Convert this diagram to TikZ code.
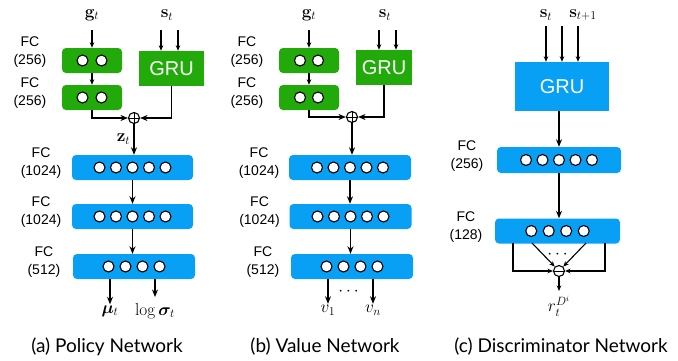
\documentclass[tikz,border=0pt]{standalone}
\usepackage{amsmath,bm}
\usepackage[no-math]{fontspec}
\newfontfamily\labelfont{Liberation Sans}
\newfontfamily\capfont{Lato}
\usetikzlibrary{arrows.meta,positioning}
\definecolor{netgreen}{RGB}{34,170,10}
\definecolor{netblue}{RGB}{8,160,245}
\tikzset{
  fcbox/.style={fill=netblue,rounded corners=4pt,minimum height=25pt,inner sep=0pt},
  gbox/.style={fill=netgreen,rounded corners=4pt,minimum width=60pt,minimum height=25pt,inner sep=0pt},
  grubox/.style={inner sep=0pt,text=white,font=\labelfont\fontsize{20}{20}\selectfont},
  unit/.style={circle,draw,fill=white,line width=1.1pt,minimum size=11pt,inner sep=0pt},
  fclabel/.style={align=center,font=\labelfont\fontsize{14}{18}\selectfont,yshift=4pt},
  var/.style={font=\fontsize{17}{19}\selectfont,inner sep=1pt},
  caption/.style={font=\capfont\fontsize{19}{22}\selectfont},
  arr/.style={-{Stealth[length=7.5pt,width=6pt]},line width=1.6pt},
  inarr/.style={-{Stealth[length=5.5pt,width=4.5pt]},line width=1.1pt},
  junction/.style={circle,draw,line width=1.1pt,minimum size=11pt,inner sep=0pt}
}
\begin{document}
\begin{tikzpicture}[x=1pt,y=-1pt]
\useasboundingbox (0,0) rectangle (678,360);
% (a) policy network
\node[var] (ga) at (92,15) {$\mathbf{g}_t$};
\node[var] (sa) at (167,15) {$\mathbf{s}_t$};
\node[gbox] (ga1) at (92,60.5) {};
\node[gbox] (ga2) at (92,97.5) {};
\node[grubox,fill=netgreen,minimum width=65pt,minimum height=35pt] (grua) at (171.5,68.5) {GRU};
\node[junction,path picture={\draw[line width=0.9pt] (path picture bounding box.north) -- (path picture bounding box.south) (path picture bounding box.west) -- (path picture bounding box.east);}] (pa) at (134,118) {};
\node[fcbox,minimum width=121pt] (fa1) at (132.5,167.5) {};
\node[fcbox,minimum width=121pt] (fa2) at (132.5,216.5) {};
\node[fcbox,minimum width=122pt] (fa3) at (134,266.5) {};
\foreach \b in {ga1,ga2} \foreach \i in {-0.5,0.5} \node[unit,xshift=\i*19pt] at (\b) {};
\foreach \b in {fa1,fa2} \foreach \i in {-2,...,2} \node[unit,xshift=\i*16.5pt] at (\b) {};
\foreach \i in {-1.5,-0.5,0.5,1.5} \node[unit,xshift=\i*17pt] at (fa3) {};
\node[fclabel,left=12pt of ga1,yshift=4pt] {FC\\(256)};
\node[fclabel,left=12pt of ga2] {FC\\(256)};
\node[fclabel,left=7pt of fa1] {FC\\(1024)};
\node[fclabel,left=7pt of fa2] {FC\\(1024)};
\node[fclabel,left=9pt of fa3] {FC\\(512)};
\coordinate (sa1) at (161,30);
\coordinate (sa2) at (178,30);
\draw[inarr] (ga.south |- sa1) -- (ga1.north);
\draw[inarr] (ga1) -- (ga2);
\draw[inarr] (sa1) -- (sa1 |- grua.north);
\draw[inarr] (sa2) -- (sa2 |- grua.north);
\draw[arr] (ga2.south) |- (pa.west);
\draw[arr] (grua.south) |- (pa.east);
\draw[arr] (pa) -- (pa |- fa1.north) node[midway,left=2pt,var] {$\mathbf{z}_t$};
\draw[arr] (fa1.south) -- (fa1.south |- fa2.north);
\draw[arr] (fa2.south) -- (fa2.south |- fa3.north);
\node[var] (mua) at (110,311) {$\bm{\mu}_t$};
\node[var] (siga) at (155,311) {$\log\bm{\sigma}_t$};
\draw[arr] (mua |- fa3.south) -- (mua.north);
\draw[arr] (155,279) -- (155,297);
\node[caption] (capa) at (107,347) {(a) Policy Network};
% (b) value network
\node[var] (gb) at (309,15) {$\mathbf{g}_t$};
\node[var] (sb) at (385,15) {$\mathbf{s}_t$};
\node[gbox] (gb1) at (309,60.5) {};
\node[gbox] (gb2) at (309,97.5) {};
\node[grubox,fill=netgreen,minimum width=56pt,minimum height=35pt] (grub) at (384,67.5) {GRU};
\node[junction,path picture={\draw[line width=0.9pt] (path picture bounding box.north) -- (path picture bounding box.south) (path picture bounding box.west) -- (path picture bounding box.east);}] (pb) at (352,117) {};
\node[fcbox,minimum width=122pt] (fb1) at (350,167.5) {};
\node[fcbox,minimum width=122pt] (fb2) at (350.5,216.5) {};
\node[fcbox,minimum width=122pt] (fb3) at (352,266.5) {};
\foreach \b in {gb1,gb2} \foreach \i in {-0.5,0.5} \node[unit,xshift=\i*18pt] at (\b) {};
\foreach \b in {fb1,fb2} \foreach \i in {-2,...,2} \node[unit,xshift=\i*16.5pt] at (\b) {};
\foreach \i in {-1.5,-0.5,0.5,1.5} \node[unit,xshift=\i*17pt] at (fb3) {};
\node[fclabel,left=12pt of gb1,yshift=4pt] {FC\\(256)};
\node[fclabel,left=12pt of gb2] {FC\\(256)};
\node[fclabel,left=6pt of fb1] {FC\\(1024)};
\node[fclabel,left=6pt of fb2] {FC\\(1024)};
\node[fclabel,left=8pt of fb3] {FC\\(512)};
\coordinate (sb1) at (379,30);
\coordinate (sb2) at (396,30);
\draw[inarr] (gb.south |- sb1) -- (gb1.north);
\draw[inarr] (gb1) -- (gb2);
\draw[inarr] (sb1) -- (sb1 |- grub.north);
\draw[inarr] (sb2) -- (sb2 |- grub.north);
\draw[arr] (gb2.south) |- (pb.west);
\draw[arr] (grub.south) |- (pb.east);
\draw[arr] (pb) -- (pb |- fb1.north);
\draw[arr] (fb1.south) -- (fb1.south |- fb2.north);
\draw[arr] (fb2.south) -- (fb2.south |- fb3.north);
\node[var] (v1) at (328,310) {$v_1$};
\node[var] (vn) at (373,310) {$v_n$};
\node[var] (dotsb) at (350,292) {$\cdots$};
\draw[arr] (v1 |- fb3.south) -- (v1.north);
\draw[arr] (vn |- fb3.south) -- (vn.north);
\node[caption] (capb) at (325,347) {(b) Value Network};
% (c) discriminator network
\node[var] (sc) at (546,15) {$\mathbf{s}_t$};
\node[var] (sc1) at (583,15) {$\mathbf{s}_{t+1}$};
\node[grubox,fill=netblue,minimum width=94pt,minimum height=49pt] (gruc) at (562,86.5) {GRU};
\node[fcbox,minimum width=124pt,minimum height=26pt] (fc1) at (559,160) {};
\node[fcbox,minimum width=125pt] (fc2) at (557.5,231) {};
\node[junction,path picture={\draw[line width=0.9pt] (path picture bounding box.west) -- (path picture bounding box.east);}] (mc) at (559,271) {};
\foreach \i in {-2,...,2} \node[unit,xshift=\i*16.5pt] at (fc1) {};
\foreach \i in {-1.5,-0.5,0.5,1.5} \node[unit,xshift=\i*17.5pt] at (fc2) {};
\node[fclabel,left=10pt of fc1] {FC\\(256)};
\node[fclabel,left=9pt of fc2] {FC\\(128)};
\foreach \x [count=\k] in {546,562,578} {
  \coordinate (sc\k) at (\x,26);
  \draw[inarr] (sc\k) -- (sc\k |- gruc.north);
}
\draw[arr] (fc1 |- gruc.south) -- (fc1.north);
\draw[arr] (fc1.south) -- (fc1.south |- fc2.north);
\coordinate (cl) at (513,243);
\coordinate (cr) at (605,243);
\coordinate (dl) at (532,243);
\coordinate (dr) at (586,243);
\draw[inarr] (cl) |- (mc.west);
\draw[inarr] (cr) |- (mc.east);
\draw[inarr] (dl) -- (mc);
\draw[inarr] (dr) -- (mc);
\node[var] (dotsc) at (559,255) {$\cdots$};
\node[var,inner sep=0pt] (rc) at (559,306) {$r_t^{D^i}$};
\draw[inarr] (mc) -- (mc |- 0,291);
\node[caption] (capc) at (561,347) {(c) Discriminator Network};
\end{tikzpicture}
\end{document}
